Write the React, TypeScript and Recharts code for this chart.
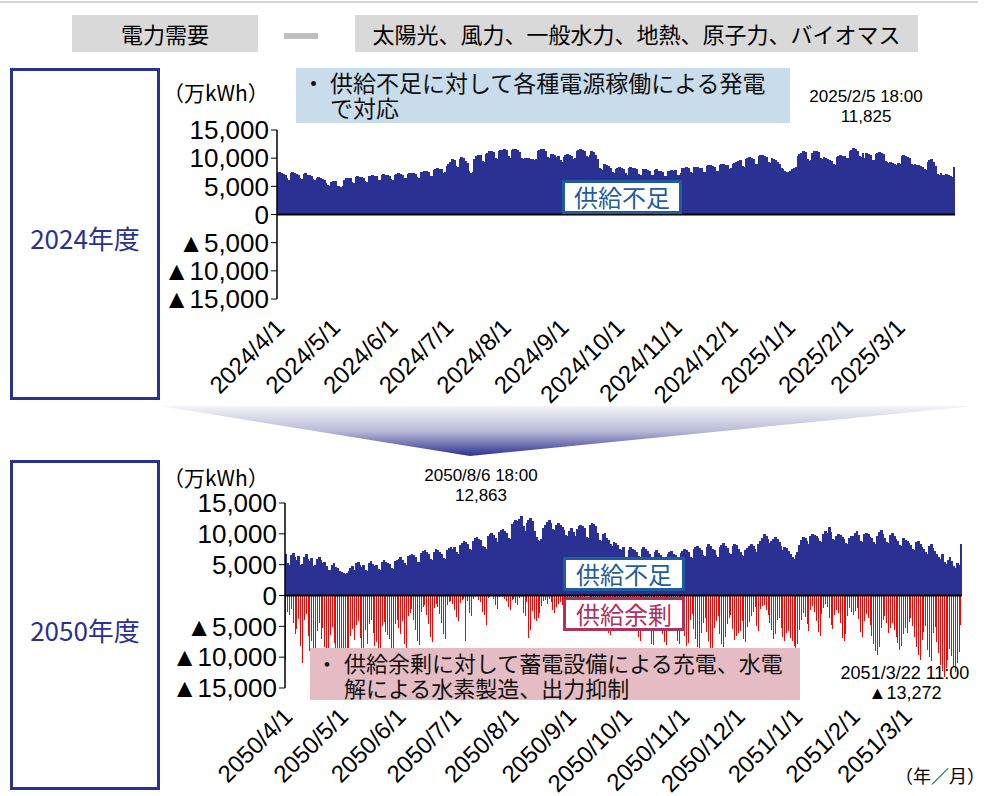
import { BarChart, Bar, XAxis, YAxis, ReferenceLine } from 'recharts'

const FONT = "'Liberation Sans', 'Noto Sans CJK JP', sans-serif"
const JP = "'Noto Sans CJK JP', 'Liberation Sans', sans-serif"
const NAVY = '#2A3192'
const BOX_BLUE = '#1F5C9E'
const BOX_RED = '#B0305E'

const months2024 = ['2024/4', '2024/5', '2024/6', '2024/7', '2024/8', '2024/9', '2024/10', '2024/11', '2024/12', '2025/1', '2025/2', '2025/3']
const months2050 = ['2050/4', '2050/5', '2050/6', '2050/7', '2050/8', '2050/9', '2050/10', '2050/11', '2050/12', '2051/1', '2051/2', '2051/3']

// 2024年度: daily peak shortage (万kWh)
const short2024Apr = [7400, 7600, 7300, 7200, 7100, 6400, 6200, 7300, 7500, 7400, 7200, 7000, 6500, 6300, 7200, 7300, 7100, 7000, 6900, 6300, 6100, 6500, 6600, 6400, 6300, 6200, 5600, 5300, 5100, 5800]
const short2024May = [6000, 5900, 5100, 5000, 4900, 5000, 6200, 6400, 6500, 6400, 5800, 5600, 6600, 6800, 6700, 6600, 6500, 5900, 5800, 6800, 6900, 7000, 6900, 6800, 6200, 6100, 7100, 7200, 7100, 7000, 6900]
const short2024Jun = [6300, 6200, 7100, 7200, 7300, 7200, 7100, 6500, 6400, 7200, 7300, 7400, 7300, 7200, 6600, 6500, 7500, 7600, 7700, 7800, 7600, 6900, 6800, 7900, 8000, 8200, 8100, 8000, 7300, 7500]
const short2024Jul = [8600, 9000, 9400, 9800, 9600, 8600, 8400, 9800, 10200, 10000, 9500, 9200, 7800, 7400, 7600, 9800, 10300, 10600, 10500, 9500, 9300, 10800, 11000, 11200, 11300, 11100, 10000, 9800, 11200, 11400, 11500]
const short2024Aug = [11600, 11500, 10300, 10100, 11400, 11600, 11700, 11400, 11100, 10000, 9800, 10000, 10100, 10000, 9800, 9900, 9700, 9900, 11200, 11400, 11600, 11700, 11300, 10200, 10000, 10800, 10700, 10500, 10200, 10400, 9600]
const short2024Sep = [9400, 10200, 10500, 10700, 10600, 10400, 9800, 10000, 11200, 11400, 11600, 11500, 11300, 10400, 10200, 10600, 11300, 11100, 10500, 9800, 8300, 8100, 7900, 8900, 8800, 8600, 8300, 7500, 7300, 8000]
const short2024Oct = [8200, 8400, 8300, 8100, 7300, 7100, 8200, 8400, 8300, 8200, 8000, 7200, 7000, 7100, 8000, 8100, 7900, 7800, 7100, 7000, 7900, 8000, 7800, 7700, 7600, 6900, 6800, 7700, 7800, 7900, 7800]
const short2024Nov = [7900, 7100, 7000, 7300, 8200, 8300, 8400, 8200, 7500, 7400, 8400, 8500, 8400, 8300, 8200, 7600, 7500, 8600, 8700, 8800, 8600, 8500, 7800, 7700, 8800, 8900, 9000, 8800, 8700, 8000]
const short2024Dec = [8200, 8900, 9100, 9300, 9500, 9600, 8600, 8500, 9900, 10000, 10200, 10100, 9900, 9000, 8900, 10300, 10500, 10600, 10400, 10200, 9300, 9100, 10100, 9900, 9700, 9400, 9000, 8300, 8000, 7800, 7500]
const short2025Jan = [7600, 7800, 8000, 8300, 8400, 10400, 10800, 11000, 11200, 11100, 9800, 9500, 9700, 11000, 11200, 11300, 11100, 10000, 9800, 10200, 10000, 9800, 9700, 9500, 8900, 8800, 10200, 10400, 10500, 10400, 10300]
const short2025Feb = [10000, 10100, 11200, 11500, 11825, 11600, 11300, 10300, 10200, 11000, 10000, 10900, 10800, 10600, 9700, 9600, 10800, 11000, 11100, 10900, 10700, 9500, 9300, 9200, 9300, 9100, 8900, 8800]
const short2025Mar = [9200, 9000, 10300, 10500, 10400, 10200, 10000, 8900, 8700, 9000, 8800, 8700, 8600, 8400, 8000, 7900, 9300, 9600, 9800, 9400, 8600, 7200, 7000, 7300, 7100, 7000, 7200, 7100, 6800, 6700, 8400]

// 2050年度: daily peak shortage (万kWh)
const short2050Apr = [6800, 5200, 5000, 6500, 6900, 6200, 5800, 6400, 4900, 5100, 6300, 6700, 6000, 5600, 6100, 4800, 5000, 5900, 6200, 5800, 5200, 5500, 4800, 4100, 4200, 5000, 5300, 4700, 4400, 3900]
const short2050May = [3800, 3600, 3500, 3700, 3900, 4500, 4800, 4200, 5200, 5400, 5000, 4700, 4900, 4100, 4000, 5300, 5600, 5100, 4800, 5000, 4300, 4200, 5500, 5700, 5400, 5200, 5100, 4400, 4300, 5600, 5800]
const short2050Jun = [6000, 6200, 5800, 5200, 5000, 6400, 6600, 6800, 6500, 6300, 5500, 5400, 6900, 7200, 7400, 7000, 6700, 5900, 5700, 7100, 7500, 7300, 7000, 6800, 6100, 6000, 7400, 7700, 7900, 7600]
const short2050Jul = [7800, 7000, 6800, 8200, 8500, 8800, 8600, 8400, 7600, 7400, 8900, 9300, 9500, 9200, 9000, 8000, 7800, 7500, 9600, 9900, 10100, 9800, 9300, 8600, 10300, 10600, 10800, 10500, 10200, 9400, 9200]
const short2050Aug = [11600, 12000, 12300, 12100, 12400, 12863, 11200, 10400, 11800, 12200, 12500, 12100, 10500, 9500, 9000, 8800, 9200, 11000, 11500, 11900, 12200, 11700, 10800, 10600, 11400, 11800, 11500, 11100, 10700, 9800, 9600]
const short2050Sep = [10500, 11000, 10300, 9600, 10800, 11300, 11500, 11200, 10900, 9500, 9300, 11400, 11700, 11600, 11300, 10200, 9000, 8800, 9900, 10100, 9400, 9000, 8300, 8100, 8700, 8500, 8200, 7500, 7300, 7900]
const short2050Oct = [6200, 6000, 7400, 7800, 7600, 7300, 7100, 6400, 6200, 7600, 7900, 7500, 7200, 6800, 5900, 5700, 7000, 7300, 6900, 6600, 6300, 5600, 5400, 6700, 7000, 7200, 6800, 6500, 5800, 5500, 6900]
const short2050Nov = [7200, 7500, 7300, 7000, 6300, 6100, 7600, 7800, 8100, 7700, 7400, 6600, 6400, 7900, 8300, 8000, 7600, 7300, 6500, 6300, 7800, 8200, 8500, 8100, 7700, 6900, 6700, 8000, 8400, 8200]
const short2050Dec = [7600, 7000, 6600, 6400, 7300, 7700, 8100, 8300, 8000, 7500, 7000, 8400, 8900, 9400, 9900, 9600, 9200, 8500, 8800, 9100, 9500, 9200, 8600, 8000, 7400, 7900, 7700, 7200, 6800, 6200, 6000]
const short2051Jan = [6600, 7000, 8200, 9000, 9500, 9300, 8800, 8400, 9700, 10000, 9800, 9600, 9400, 8900, 8700, 9900, 10400, 10200, 11100, 10300, 9200, 9000, 9600, 10000, 9800, 9500, 9100, 8500, 8300, 9400, 9700]
const short2051Feb = [9600, 10100, 10400, 9800, 8900, 8700, 9900, 10200, 10000, 9500, 9300, 8600, 8400, 9700, 10300, 10600, 10000, 9400, 8700, 8500, 9800, 10100, 9600, 9200, 8800, 8200, 8000, 9300]
const short2051Mar = [9000, 8800, 8500, 8200, 7600, 7300, 8600, 8900, 8400, 7900, 7500, 7000, 6800, 8000, 8300, 7700, 7200, 6700, 6200, 5900, 6800, 5400, 5100, 5800, 6200, 5600, 4800, 4400, 5300, 5000, 8400]

// 2050年度: daily deepest surplus (万kWh, negative)
const surp2050Apr = [-10400, -2600, -3100, -2200, -4500, -6200, -5500, -3800, -8200, -11000, -4000, -3000, -6600, -9000, -7400, -10800, -9900, -5700, -4400, -7000, -5200, -8300, -9700, -10600, -6400, -5100, -7700, -8800, -9400, -10000]
const surp2050May = [-9800, -10500, -10200, -9600, -9000, -6500, -5400, -7200, -4800, -4200, -6900, -8800, -9600, -5600, -7800, -4600, -3900, -6100, -8200, -7500, -9400, -10000, -5000, -4300, -5900, -6400, -7100, -9200, -9900, -4700, -4000]
const surp2050Jun = [-5200, -6300, -4100, -7800, -8600, -3400, -2800, -2200, -3900, -5600, -7400, -8100, -2600, -1900, -1500, -3200, -4700, -6800, -7600, -2100, -1400, -1800, -3000, -4500, -6200, -7000, -1600, -1100, -900, -1300]
const surp2050Jul = [-2400, -3500, -4200, -1200, -800, -600, -7400, -900, -2800, -3300, -500, -300, 0, -700, -1000, -2600, -3100, -4800, -400, -200, 0, -500, -1500, -2200, -300, 0, -200, -600, -900, -1800, -2300]
const surp2050Aug = [-800, -600, -1200, -1500, -400, -300, -2900, -3300, -1100, -6900, -5600, -2500, -3800, -4200, -3600, -2900, -1700, -900, -700, -1300, -500, -1000, -2400, -2800, -1900, -1400, -1000, -1600, -700, -2100, -2600]
const surp2050Sep = [-300, -600, -1500, -2200, -400, -5400, -5800, -3600, -200, -100, 0, -300, -500, -200, -1000, -2300, -2600, -900, -400, -1200, -3900, -6000, -6400, -2100, -1100, -800, -1600, -2800, -5100, -3400]
const surp2050Oct = [-4200, -5600, -2100, -1500, -2700, -3500, -4800, -6700, -7400, -2900, -1800, -2400, -3900, -5200, -7800, -8100, -3100, -2600, -4400, -5100, -6200, -7600, -8000, -3300, -2500, -2900, -4700, -5800, -7300, -7900, -3600]
const surp2050Nov = [-4800, -6600, -8200, -7700, -3900, -3000, -5400, -7100, -8300, -8600, -6000, -4500, -3700, -5900, -7400, -8500, -8800, -5300, -4100, -3400, -6300, -7800, -8400, -6800, -4700, -3600, -3200, -5500, -7200, -6500]
const surp2050Dec = [-6000, -5800, -4200, -7000, -7600, -5100, -4300, -3300, -2600, -1900, -4900, -5800, -2200, -1700, -1500, -2300, -3100, -4500, -5600, -7000, -6300, -4000, -3600, -5200, -6800, -7400, -6100, -5700, -6900, -7300, -8200]
const surp2051Jan = [-8500, -7900, -5600, -4000, -2800, -3500, -4600, -5800, -2300, -1700, -2600, -4100, -5900, -6600, -3000, -2000, -1400, -1800, -3600, -4800, -5500, -3200, -2400, -2900, -4400, -6900, -7300, -6200, -3400, -2100, -2700]
const surp2051Feb = [-3100, -2500, -2000, -3800, -5900, -6700, -4200, -3000, -3600, -4800, -6500, -7800, -9000, -9700, -8300, -5200, -4000, -3300, -4500, -6100, -5200, -4400, -5600, -6800, -7700, -8900, -8200, -6300]
const surp2051Mar = [-5200, -6100, -4300, -3600, -4900, -6800, -8400, -9600, -10400, -7200, -5900, -5000, -8800, -9900, -10700, -6100, -5100, -7600, -9300, -11200, -12200, -13272, -11800, -10400, -8600, -9800, -11600, -12400, -10900, -9100, -4800]

const yTicks = [-15000, -10000, -5000, 0, 5000, 10000, 15000]

const shortage2024 = [short2024Apr, short2024May, short2024Jun, short2024Jul, short2024Aug, short2024Sep, short2024Oct, short2024Nov, short2024Dec, short2025Jan, short2025Feb, short2025Mar]
const shortage2050 = [short2050Apr, short2050May, short2050Jun, short2050Jul, short2050Aug, short2050Sep, short2050Oct, short2050Nov, short2050Dec, short2051Jan, short2051Feb, short2051Mar]
const surplus2050 = [surp2050Apr, surp2050May, surp2050Jun, surp2050Jul, surp2050Aug, surp2050Sep, surp2050Oct, surp2050Nov, surp2050Dec, surp2051Jan, surp2051Feb, surp2051Mar]

const rows2024 = months2024.flatMap((m, i) =>
  shortage2024[i].map((v, d) => ({ date: `${m}/${d + 1}`, shortage: v }))
)
const rows2050 = months2050.flatMap((m, i) =>
  shortage2050[i].map((v, d) => ({ date: `${m}/${d + 1}`, shortage: v, surplus: surplus2050[i][d] }))
)
const ticks2024 = months2024.map(m => `${m}/1`)
const ticks2050 = months2050.map(m => `${m}/1`)

const fmt = (v: number) => (v < 0 ? '▲' : '') + Math.abs(v).toLocaleString('en-US')

const DateTick = ({ x, y, payload }: any) => {
  const tx = x + 8
  const ty = y + 22
  return (
    <text x={tx} y={ty} textAnchor="end" fontSize={24} fill="#000" transform={`rotate(-45, ${tx}, ${ty})`}>
      {payload.value}
    </text>
  )
}

// daily shortage columns, snapped to whole pixels so neighbours join up
const ShortageBar = (p: any) => {
  if (!p.height) return null
  const top = Math.min(p.y, p.y + p.height)
  const left = Math.floor(p.x)
  return (
    <rect x={left} y={top} width={Math.ceil(p.x + p.width) - left} height={Math.abs(p.height)} fill={NAVY} shapeRendering="crispEdges" />
  )
}

// surplus hours are short, so the red marks are drawn as hairlines
const SurplusBar = (p: any) => {
  if (!p.height) return null
  const top = Math.min(p.y, p.y + p.height)
  return (
    <rect x={Math.round(p.x + p.width / 2 - 0.5)} y={top} width={1} height={Math.abs(p.height)} fill="#FF0000" shapeRendering="crispEdges" />
  )
}

const yAxisProps = {
  domain: [-15000, 15000] as [number, number],
  ticks: yTicks,
  tickFormatter: fmt,
  tick: { fontSize: 26, fill: '#000' },
  axisLine: { stroke: '#000', strokeWidth: 1.5 },
  tickLine: { stroke: '#000' },
  tickSize: 6,
  interval: 0 as const,
  allowDataOverflow: true,
}

const abs = (left: number, top: number, extra: any = {}) => ({ position: 'absolute' as const, left, top, ...extra })

const LabelBox = ({ left, top, width, color, text }: any) => (
  <div style={abs(left, top, {
    width, height: 28, border: `3px solid ${color}`, background: '#fff', color,
    fontFamily: JP, fontSize: 24, lineHeight: '28px', textAlign: 'center', boxSizing: 'content-box',
  })}>{text}</div>
)

const Note = ({ left, top, width, height, bg, size, lines }: any) => (
  <div style={abs(left, top, { width, height, background: bg, fontFamily: JP, fontSize: size, lineHeight: '25px', color: '#111' })}>
    <div style={abs(6, 2)}>・</div>
    <div style={abs(34, 2, { whiteSpace: 'nowrap' })}>
      {lines[0]}<br />{lines[1]}
    </div>
  </div>
)

const frameStyle = (top: number, height: number, pad: number) => abs(10, top, {
  width: 144, height: height - pad, paddingTop: pad, border: `3px solid ${NAVY}`, color: NAVY,
  fontFamily: JP, fontSize: 26, display: 'flex', alignItems: 'center', justifyContent: 'center', boxSizing: 'content-box',
})

export default function App() {
  return (
    <div style={{ position: 'absolute', left: 0, top: 0, width: 988, height: 796, background: '#fff', fontFamily: FONT, overflow: 'hidden' }}>
      <div style={abs(0, 1, { width: 978, height: 2, background: '#D4D4D4' })} />

      {/* legend header */}
      <div style={abs(72, 15, { width: 186, height: 37, background: '#D9D9D9', fontFamily: JP, fontSize: 22, lineHeight: '37px', textAlign: 'center' })}>電力需要</div>
      <div style={abs(284, 33, { width: 34, height: 6, background: '#BFBFBF' })} />
      <div style={abs(355, 15, { width: 563, height: 37, background: '#D9D9D9', fontFamily: JP, fontSize: 22, lineHeight: '37px', textAlign: 'center' })}>太陽光、風力、一般水力、地熱、原子力、バイオマス</div>

      {/* year frames */}
      <div style={frameStyle(68, 326, 6)}>2024年度</div>
      <div style={frameStyle(460, 324, 8)}>2050年度</div>

      <svg style={abs(0, 400)} width={988} height={60}>
        <defs>
          <linearGradient id="funnel" x1="0" y1="0" x2="0" y2="1">
            <stop offset="0" stopColor="#F4F4F8" />
            <stop offset="0.5" stopColor="#B9BBD8" />
            <stop offset="1" stopColor="#2E3192" />
          </linearGradient>
        </defs>
        <polygon points="160,6 975,6 470,56" fill="url(#funnel)" />
      </svg>

      <div style={abs(163, 81, { fontFamily: JP, fontSize: 21, lineHeight: '22px' })}>（万kWh）</div>
      <div style={abs(163, 466, { fontFamily: JP, fontSize: 21, lineHeight: '22px' })}>（万kWh）</div>

      <div style={abs(160, 110)}>
        <BarChart width={810} height={310} data={rows2024} margin={{ top: 20, right: 15, left: 0, bottom: 10 }} barCategoryGap={0} barGap={0} style={{ overflow: 'visible' }}>
          <XAxis dataKey="date" ticks={ticks2024} interval={0} axisLine={false} tickLine={false} height={111} tick={<DateTick />} />
          <YAxis width={117} {...yAxisProps} />
          <Bar dataKey="shortage" fill={NAVY} barSize={2} shape={<ShortageBar />} isAnimationActive={false} />
          <ReferenceLine y={0} stroke="#000" strokeWidth={2} />
        </BarChart>
      </div>

      <div style={abs(160, 483)}>
        <BarChart width={810} height={315} data={rows2050} margin={{ top: 20, right: 8, left: 0, bottom: 10 }} barCategoryGap={0} barGap={0} stackOffset="sign" style={{ overflow: 'visible' }}>
          <XAxis dataKey="date" ticks={ticks2050} interval={0} axisLine={false} tickLine={false} height={100} tick={<DateTick />} />
          <YAxis width={125} {...yAxisProps} />
          <Bar dataKey="shortage" stackId="s" fill={NAVY} barSize={2} shape={<ShortageBar />} isAnimationActive={false} />
          <Bar dataKey="surplus" stackId="s" fill="#FF0000" barSize={2} shape={<SurplusBar />} isAnimationActive={false} />
          <ReferenceLine y={0} stroke="#000" strokeWidth={2} />
        </BarChart>
      </div>

      <Note left={296} top={68} width={494} height={55} bg="#C8DCEB" size={23} lines={['供給不足に対して各種電源稼働による発電', 'で対応']} />
      <Note left={310} top={648} width={490} height={52} bg="#E6BCC4" size={22} lines={['供給余剰に対して蓄電設備による充電、水電', '解による水素製造、出力抑制']} />

      <LabelBox left={562} top={180} width={114} color={BOX_BLUE} text="供給不足" />
      <LabelBox left={563} top={557} width={116} color={BOX_BLUE} text="供給不足" />
      <LabelBox left={563} top={597} width={116} color={BOX_RED} text="供給余剰" />

      <div style={abs(786, 87, { width: 160, textAlign: 'center', fontSize: 17, lineHeight: '20px' })}>2025/2/5 18:00<br />11,825</div>
      <div style={abs(401, 466, { width: 160, textAlign: 'center', fontSize: 17, lineHeight: '20px' })}>2050/8/6 18:00<br />12,863</div>
      <div style={abs(830, 663, { width: 150, textAlign: 'center', fontSize: 18, lineHeight: '20px' })}>2051/3/22 11:00<br />▲13,272</div>

      <div style={abs(895, 762, { fontFamily: JP, fontSize: 18 })}>（年／月）</div>
    </div>
  )
}
